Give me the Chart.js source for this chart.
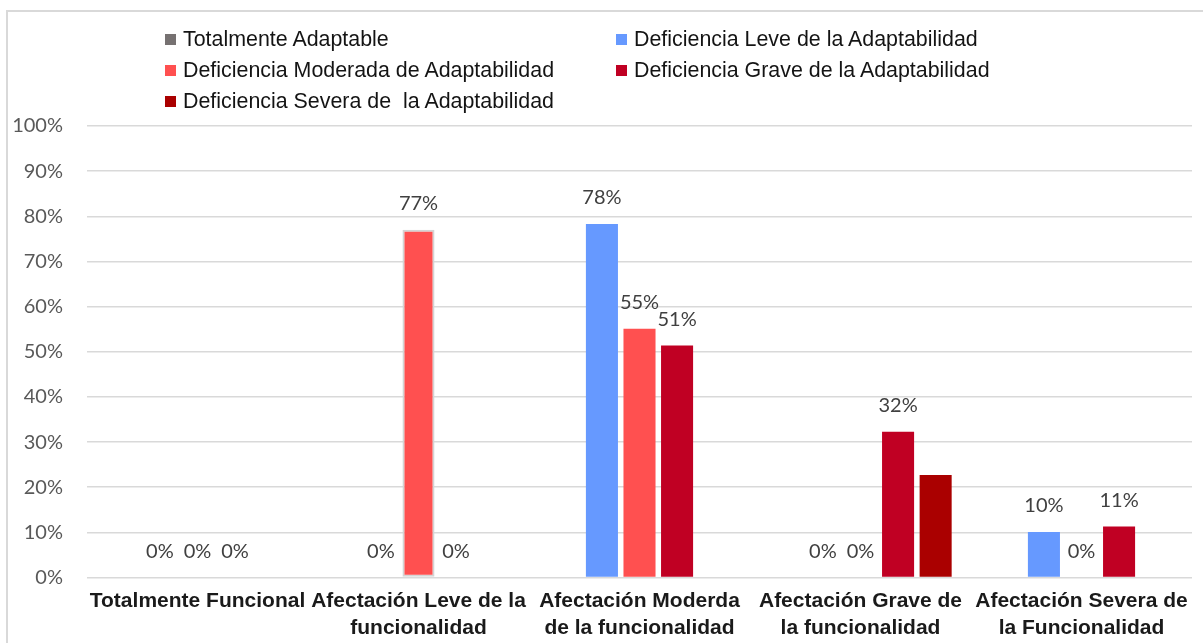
<!DOCTYPE html>
<html>
<head>
<meta charset="utf-8">
<script src="https://cdn.jsdelivr.net/npm/chart.js@4/dist/chart.umd.min.js"></script>
<style>
  html, body { margin: 0; padding: 0; background: #fff; }
  #wrap { position: relative; width: 1203px; height: 643px; overflow: hidden; }
  #frame { position: absolute; left: 6px; top: 10px; width: 1300px; height: 700px;
           border-left: 2px solid #d9d9d9; border-top: 2px solid #d9d9d9; }
  #chart { position: absolute; left: 0; top: 0; }
  #legend { position: absolute; left: 165px; top: 24px; display: grid;
            grid-template-columns: 451px 451px; grid-auto-rows: 31px; }
  .item { display: flex; align-items: center; font: 21.4px "Liberation Sans", Arial, sans-serif;
          color: #141414; white-space: pre; }
  .box { width: 11px; height: 11px; margin-right: 7px; flex: none; }
</style>
</head>
<body>
<div id="wrap">
  <div id="frame"></div>
  <canvas id="chart" width="1203" height="643"></canvas>
  <div id="legend"></div>
</div>
<script>
// Categories (x axis), two lines each
const categories = [
  ["Totalmente Funcional"],
  ["Afectación Leve de la", "funcionalidad"],
  ["Afectación Moderda", "de la funcionalidad"],
  ["Afectación Grave de", "la funcionalidad"],
  ["Afectación Severa de", "la Funcionalidad"]
];

// Series values in %, null = no bar / no label
const totalmenteAdaptable = [null, null, null, null, null];
const deficienciaLeve     = [0, 0, 78.3, 0, 10.1];
const deficienciaModerada = [0, 77.0, 55.1, 0, 0];
const deficienciaGrave    = [0, 0, 51.4, 32.3, 11.3];
const deficienciaSevera   = [null, null, null, 22.7, null];

const seriesNames = [
  "Totalmente Adaptable",
  "Deficiencia Leve de la Adaptabilidad",
  "Deficiencia Moderada de Adaptabilidad",
  "Deficiencia Grave de la Adaptabilidad",
  "Deficiencia Severa de  la Adaptabilidad"
];
const seriesColors = ["#767171", "#6699FF", "#FF5050", "#C00023", "#AA0000"];

// Data labels that the original does not show: [series, category]
const hiddenLabels = [[4, 3]];

const yTicks = [0, 10, 20, 30, 40, 50, 60, 70, 80, 90, 100];

const seriesData = [totalmenteAdaptable, deficienciaLeve, deficienciaModerada, deficienciaGrave, deficienciaSevera];

const datasets = seriesData.map((data, i) => ({
  label: seriesNames[i],
  data: data,
  backgroundColor: seriesColors[i],
  borderColor: i === 2 ? data.map((v, j) => (j === 1 ? "#d4d4d4" : seriesColors[i])) : seriesColors[i],
  borderWidth: i === 2 ? data.map((v, j) => (j === 1 ? 2 : 0)) : 0,
  borderSkipped: false,
  categoryPercentage: 0.85,
  barPercentage: 0.853
}));

// Simple value labels above each bar
const barLabels = {
  id: "barLabels",
  afterDatasetsDraw(chart) {
    const ctx = chart.ctx;
    ctx.save();
    ctx.font = '20px Lato, "Open Sans", sans-serif';
    ctx.fillStyle = "#404040";
    ctx.textAlign = "center";
    ctx.textBaseline = "middle";
    chart.data.datasets.forEach((ds, di) => {
      const meta = chart.getDatasetMeta(di);
      meta.data.forEach((el, idx) => {
        const v = ds.data[idx];
        if (v === null || v === undefined) return;
        if (hiddenLabels.some(([s, c]) => s === di && c === idx)) return;
        ctx.fillText(Math.round(v) + "%", el.x, el.y - 26);
      });
    });
    ctx.restore();
  }
};

new Chart(document.getElementById("chart"), {
  type: "bar",
  data: { labels: categories, datasets: datasets },
  options: {
    responsive: false,
    animation: false,
    layout: { padding: { top: 126, right: 11, left: 0, bottom: 0 } },
    plugins: { legend: { display: false }, tooltip: { enabled: false } },
    scales: {
      x: {
        grid: { display: false, drawTicks: false },
        border: { display: false },
        ticks: {
          color: "#1a1a1a",
          padding: 11,
          maxRotation: 0,
          autoSkip: false,
          font: { family: '"Liberation Sans", Arial, sans-serif', size: 21, weight: "bold", lineHeight: 1.25 }
        },
        afterFit(scale) { scale.height = 65.5; }
      },
      y: {
        min: 0,
        max: 100,
        afterBuildTicks(scale) { scale.ticks = yTicks.map((v) => ({ value: v })); },
        grid: { color: "#d9d9d9", lineWidth: 1.5, drawTicks: false },
        border: { display: false },
        ticks: {
          color: "#595959",
          padding: 24,
          font: { family: 'Lato, "Open Sans", sans-serif', size: 20 },
          callback: (v) => v + "%"
        },
        afterFit(scale) { scale.width = 87; }
      }
    }
  },
  plugins: [barLabels]
});

// HTML legend in two columns
const legendEl = document.getElementById("legend");
seriesNames.forEach((name, i) => {
  const item = document.createElement("div");
  item.className = "item";
  const box = document.createElement("span");
  box.className = "box";
  box.style.background = seriesColors[i];
  item.appendChild(box);
  item.appendChild(document.createTextNode(name));
  legendEl.appendChild(item);
});
</script>
</body>
</html>
